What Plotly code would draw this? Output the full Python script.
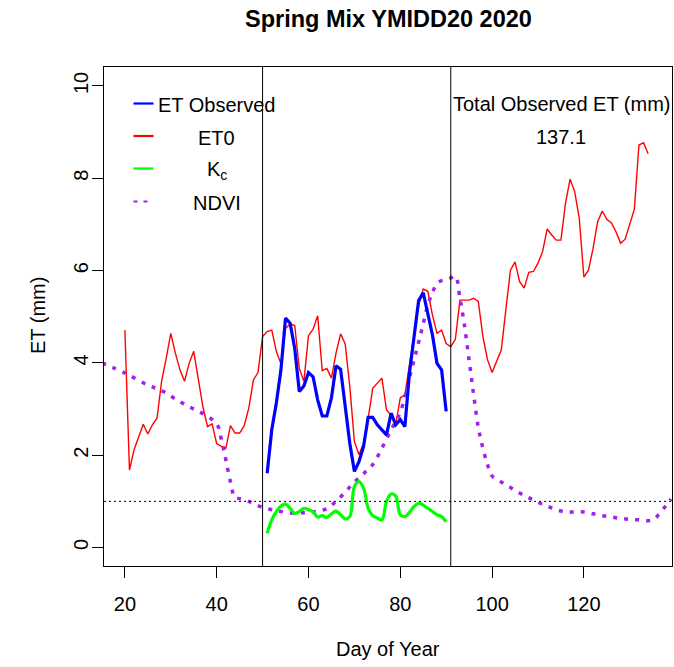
import plotly.graph_objects as go

# ---- data -------------------------------------------------------------
et0_days = list(range(20, 135))
et0_vals = [
    4.71, 1.68, 2.12, 2.40, 2.67, 2.46, 2.66, 2.80, 3.60, 4.10,
    4.64, 4.21, 3.85, 3.60, 3.99, 4.25, 3.63, 3.05, 2.62, 2.68,
    2.25, 2.19, 2.15, 2.64, 2.48, 2.48, 2.64, 3.02, 3.63, 3.79,
    4.57, 4.68, 4.71, 4.25, 3.98, 4.75, 4.84, 4.81, 3.88, 3.60,
    4.59, 4.73, 5.02, 3.83, 3.88, 3.67, 4.21, 4.63, 4.41, 3.49,
    2.30, 2.01, 2.26, 2.80, 3.45, 3.56, 3.67, 2.98, 2.87, 2.66,
    3.24, 3.31, 3.96, 4.61, 5.26, 5.60, 5.55, 5.04, 4.64, 4.71,
    4.42, 4.35, 4.51, 5.36, 5.36, 5.36, 5.40, 5.33, 4.57, 4.07,
    3.79, 4.03, 4.28, 5.15, 6.01, 6.19, 5.76, 5.62, 5.96, 5.98,
    6.16, 6.41, 6.90, 6.77, 6.66, 6.66, 7.46, 7.98, 7.71, 7.13,
    5.86, 6.01, 6.48, 7.06, 7.29, 7.11, 7.03, 6.84, 6.59, 6.68,
    6.99, 7.33, 8.72, 8.77, 8.53,
]

obs_days = list(range(51, 91))
et_observed = [
    1.61, 2.55, 3.13, 3.85, 4.97, 4.86, 4.32, 3.38, 3.50, 3.79,
    3.70, 3.20, 2.85, 2.85, 3.24, 3.94, 3.86, 3.05, 2.26, 1.65,
    1.86, 2.19, 2.82, 2.82, 2.66, 2.55, 2.44, 2.91, 2.66, 2.77,
    2.62, 3.78, 4.64, 5.35, 5.52, 5.08, 4.61, 3.99, 3.85, 2.95,
]

kc_vals = [
    0.31, 0.60, 0.78, 0.90, 0.94, 0.85, 0.74, 0.78, 0.85, 0.82,
    0.77, 0.66, 0.69, 0.65, 0.73, 0.79, 0.71, 0.62, 0.67, 1.32,
    1.43, 1.29, 0.85, 0.69, 0.64, 0.60, 1.00, 1.16, 1.12, 0.71,
    0.67, 0.76, 0.89, 0.96, 0.92, 0.85, 0.78, 0.71, 0.67, 0.56,
]

ndvi_days = [
    15, 20, 25, 28, 31, 34, 37, 40, 41, 42, 43, 44, 45, 47, 48, 50,
    52, 54, 56, 58, 60, 62, 64, 66, 68, 70, 72, 74, 76, 78, 80, 82,
    84, 85, 86, 87, 88, 89, 90, 91, 92, 93, 94, 95, 96, 97, 98, 99,
    100, 102, 104, 106, 108, 110, 112, 114, 116, 118, 120, 122, 124,
    126, 128, 130, 132, 134, 135, 136, 137, 138, 139,
]
ndvi_vals = [
    4.00, 3.78, 3.52, 3.40, 3.22, 3.05, 2.90, 2.68, 2.35, 1.90, 1.42, 1.08, 1.06, 1.00, 0.95, 0.87,
    0.82, 0.78, 0.75, 0.75, 0.76, 0.79, 0.84, 1.00, 1.20, 1.42, 1.60, 1.80, 2.15, 2.55, 2.93, 3.68,
    4.45, 4.85, 5.25, 5.52, 5.72, 5.78, 5.80, 5.84, 5.88, 5.40, 4.80, 4.05, 3.30, 2.60, 2.15, 1.80,
    1.55, 1.42, 1.30, 1.18, 1.08, 0.98, 0.90, 0.82, 0.77, 0.77, 0.77, 0.73, 0.69,
    0.66, 0.63, 0.61, 0.60, 0.58, 0.60, 0.68, 0.80, 0.92, 1.05,
]

season_bounds = [50, 91]
kc_reference = 1.0
total_observed_et = 137.1

x_ticks = [20, 40, 60, 80, 100, 120]
y_ticks = [0, 2, 4, 6, 8, 10]

# ---- page geometry ---------------------------------------------------------
W, H = 674, 667
ML, MR, MT, MB = 104, 2, 67, 101
PW, PH = W - ML - MR, H - MT - MB


def px(x):
    return (x - ML) / PW


def py(y):
    return (H - MB - y) / PH


FONT = "Liberation Sans, Arial, sans-serif"
BLUE, RED, GREEN, PURPLE = "#0000FF", "#FF0000", "#00FF00", "#A020F0"

fig = go.Figure()

fig.add_trace(go.Scatter(x=et0_days, y=et0_vals, mode="lines",
                         line=dict(color=RED, width=1.4), name="ET0"))
fig.add_trace(go.Scatter(x=ndvi_days, y=ndvi_vals, mode="lines",
                         line=dict(color=PURPLE, width=3.5, dash="4px,7px"),
                         line_shape="spline", name="NDVI"))
fig.add_trace(go.Scatter(x=obs_days, y=kc_vals, mode="lines",
                         line=dict(color=GREEN, width=3.2), line_shape="spline",
                         name="Kc"))
fig.add_trace(go.Scatter(x=obs_days, y=et_observed, mode="lines",
                         line=dict(color=BLUE, width=3.2), name="ET Observed"))

shapes = []
for b in season_bounds:
    shapes.append(dict(type="line", xref="x", yref="paper", x0=b, x1=b, y0=0, y1=1,
                       line=dict(color="black", width=1)))
shapes.append(dict(type="line", xref="paper", yref="y", x0=0, x1=1,
                   y0=kc_reference, y1=kc_reference,
                   line=dict(color="black", width=1, dash="2px,3px")))

# legend keys
legend_rows = [
    ("ET Observed", BLUE, None, 103.5, 105),
    ("ET0", RED, None, 136, 137.5),
    ("K<sub>c</sub>", GREEN, None, 168.5, 170),
    ("NDVI", PURPLE, "4px,6px", 201.5, 202.5),
]
annotations = []
for label, color, dash, ly, ty in legend_rows:
    ln = dict(color=color, width=2.2)
    if dash:
        ln["dash"] = dash
    shapes.append(dict(type="line", xref="paper", yref="paper",
                       x0=px(133.5), x1=px(153.5), y0=py(ly), y1=py(ly), line=ln))
    annotations.append(dict(text=label, xref="paper", yref="paper",
                            x=px(216.5), y=py(ty), xanchor="center", yanchor="middle",
                            showarrow=False, font=dict(size=20, color="black", family=FONT)))

annotations += [
    dict(text="Total Observed ET (mm)", xref="paper", yref="paper", x=px(561), y=py(103.5),
         xanchor="center", yanchor="middle", showarrow=False,
         font=dict(size=20, color="black", family=FONT)),
    dict(text=f"{total_observed_et:.1f}", xref="paper", yref="paper", x=px(561), y=py(137),
         xanchor="center", yanchor="middle", showarrow=False,
         font=dict(size=20, color="black", family=FONT)),
    dict(text="<b>Spring Mix YMIDD20 2020</b>", xref="paper", yref="paper", x=px(388), y=py(19),
         xanchor="center", yanchor="middle", showarrow=False,
         font=dict(size=23.5, color="black", family=FONT)),
    dict(text="Day of Year", xref="paper", yref="paper", x=px(388), y=py(649),
         xanchor="center", yanchor="middle", showarrow=False,
         font=dict(size=20, color="black", family=FONT)),
    dict(text="ET (mm)", xref="paper", yref="paper", x=px(38), y=py(316),
         xanchor="center", yanchor="middle", showarrow=False, textangle=-90,
         font=dict(size=20, color="black", family=FONT)),
]

axis_common = dict(showgrid=False, zeroline=False, showline=True, mirror=True,
                   linecolor="black", linewidth=1, ticks="outside", ticklen=11,
                   tickcolor="black", tickwidth=1,
                   tickfont=dict(size=20, color="black", family=FONT))

fig.update_layout(
    width=W, height=H,
    margin=dict(l=ML, r=MR, t=MT, b=MB),
    paper_bgcolor="white", plot_bgcolor="white",
    showlegend=False,
    shapes=shapes, annotations=annotations,
    xaxis=dict(range=[15.45, 139.2], tickvals=x_ticks, ticklabelstandoff=9, **axis_common),
    yaxis=dict(range=[-0.4, 10.41], tickvals=y_ticks, tickangle=-90,
               ticklabelstandoff=-4, **axis_common),
)

fig.write_html("out.html")
